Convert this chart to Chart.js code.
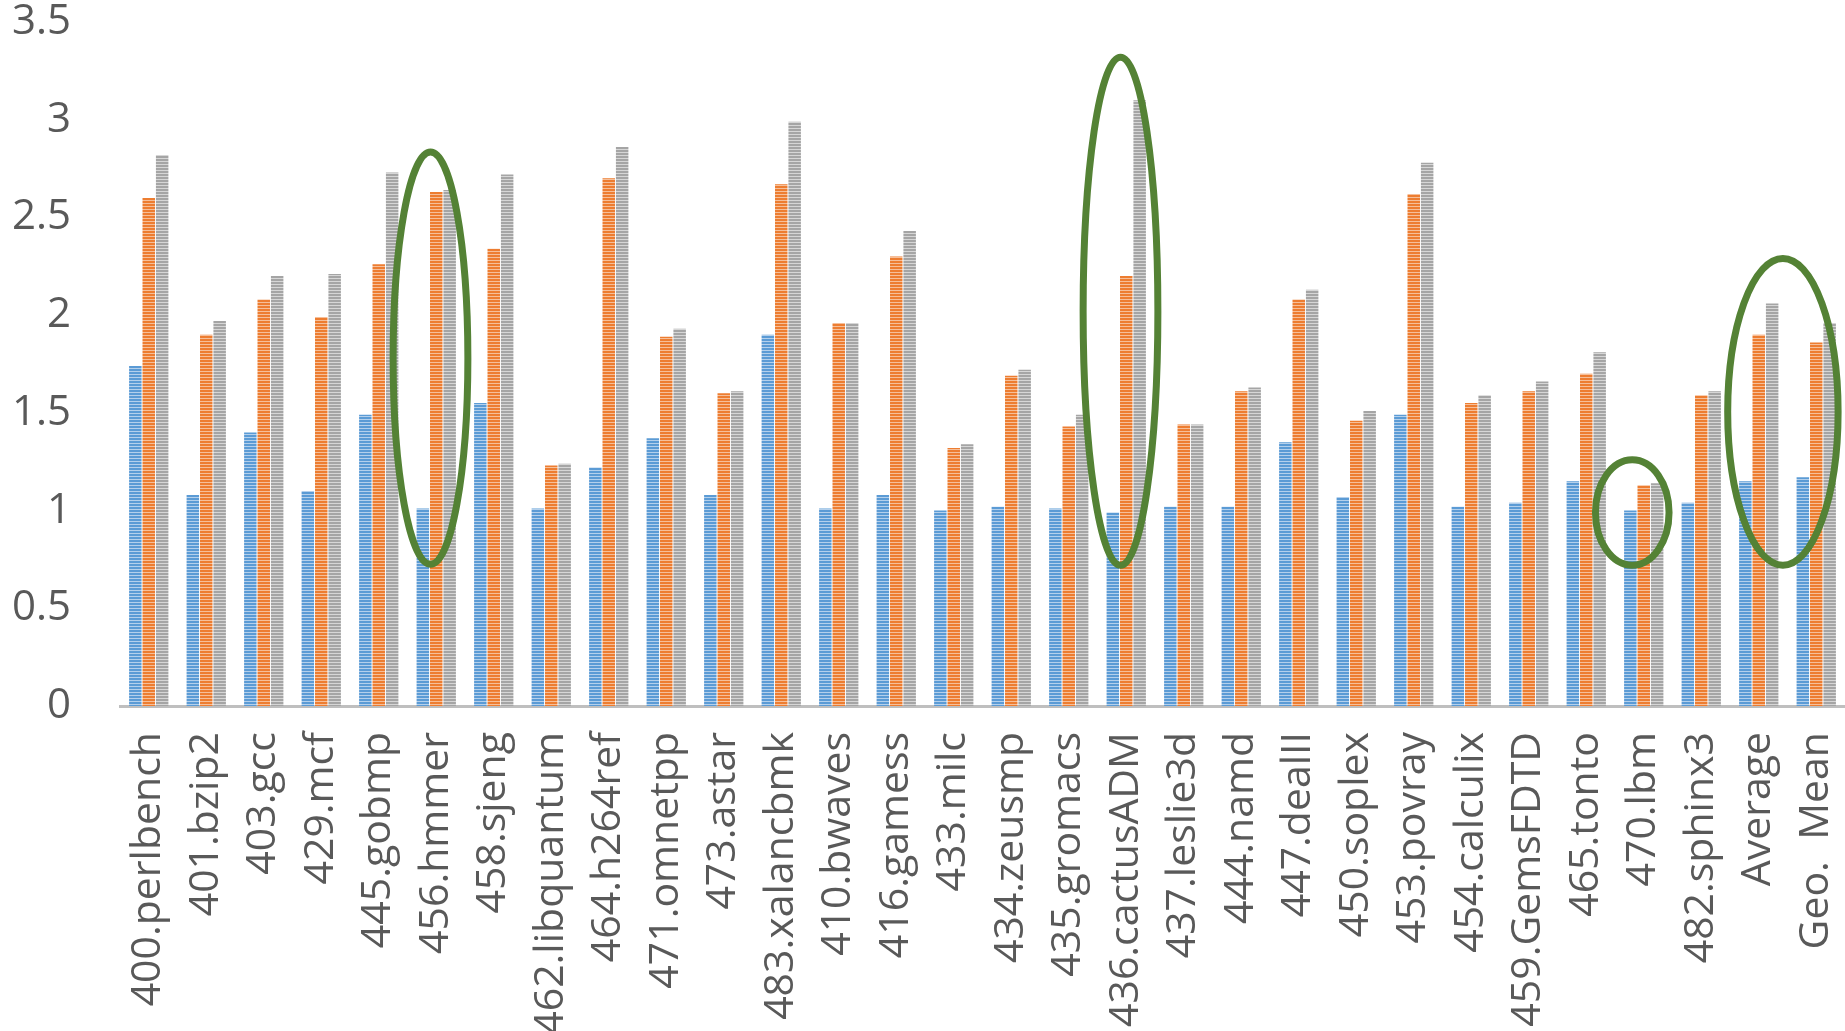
<!DOCTYPE html>
<html>
<head>
<meta charset="utf-8">
<script src="https://cdn.jsdelivr.net/npm/chart.js@4.4.1/dist/chart.umd.min.js"></script>
<style>
  html, body { margin: 0; padding: 0; background: #fff; }
  #wrap { width: 1845px; height: 1031px; }
</style>
</head>
<body>
<div id="wrap"><canvas id="chart" width="1845" height="1031"></canvas></div>
<script>
// ------------------------- DATA -------------------------
const benchmarks = [
  '400.perlbench', '401.bzip2', '403.gcc', '429.mcf', '445.gobmp', '456.hmmer',
  '458.sjeng', '462.libquantum', '464.h264ref', '471.omnetpp', '473.astar',
  '483.xalancbmk', '410.bwaves', '416.gamess', '433.milc', '434.zeusmp',
  '435.gromacs', '436.cactusADM', '437.leslie3d', '444.namd', '447.dealII',
  '450.soplex', '453.povray', '454.calculix', '459.GemsFDTD', '465.tonto',
  '470.lbm', '482.sphinx3', 'Average', 'Geo.  Mean'
];

const seriesBlue = [
  1.74, 1.08, 1.40, 1.10, 1.49, 1.01, 1.55, 1.01, 1.22, 1.37,
  1.08, 1.90, 1.01, 1.08, 1.00, 1.02, 1.01, 0.99, 1.02, 1.02,
  1.35, 1.07, 1.49, 1.02, 1.04, 1.15, 1.00, 1.04, 1.15, 1.17
];
const seriesOrange = [
  2.60, 1.90, 2.08, 1.99, 2.26, 2.63, 2.34, 1.23, 2.70, 1.89,
  1.60, 2.67, 1.96, 2.30, 1.32, 1.69, 1.43, 2.20, 1.44, 1.61,
  2.08, 1.46, 2.62, 1.55, 1.61, 1.70, 1.13, 1.59, 1.90, 1.86
];
const seriesGray = [
  2.82, 1.97, 2.20, 2.21, 2.73, 2.64, 2.72, 1.24, 2.86, 1.93,
  1.61, 2.99, 1.96, 2.43, 1.34, 1.72, 1.49, 3.10, 1.44, 1.63,
  2.13, 1.51, 2.78, 1.59, 1.66, 1.81, 1.14, 1.61, 2.06, 1.96
];

const yTicks = [0, 0.5, 1, 1.5, 2, 2.5, 3, 3.5];

// green ellipses: centre (category index, value), radii (categories, value)
const highlights = [
  { cx: 4.9, cy: 1.78, rx: 0.65, ry: 1.055 },
  { cx: 16.9, cy: 2.02, rx: 0.65, ry: 1.30 },
  { cx: 25.8, cy: 0.99, rx: 0.64, ry: 0.27 },
  { cx: 28.42, cy: 1.505, rx: 0.96, ry: 0.785 }
];

// ------------------------- PATTERNS -------------------------
function stripePattern(color, light) {
  const c = document.createElement('canvas');
  c.width = 4; c.height = 3;
  const g = c.getContext('2d');
  g.fillStyle = light; g.fillRect(0, 0, 4, 3);
  g.fillStyle = color; g.fillRect(0, 0, 4, 2);
  return g.createPattern(c, 'repeat');
}

const ctx = document.getElementById('chart').getContext('2d');

const ellipsePlugin = {
  id: 'ellipses',
  afterDatasetsDraw(chart) {
    const x = chart.scales.x, y = chart.scales.y;
    const catW = x.getPixelForValue(1) - x.getPixelForValue(0);
    const c = chart.ctx;
    c.save();
    c.strokeStyle = '#548235';
    c.lineWidth = 7;
    highlights.forEach(h => {
      const px = x.getPixelForValue(0) + h.cx * catW;
      const py = y.getPixelForValue(h.cy);
      const rx = h.rx * catW;
      const ry = Math.abs(y.getPixelForValue(h.cy + h.ry) - py);
      c.beginPath();
      c.ellipse(px, py, rx, ry, 0, 0, Math.PI * 2);
      c.stroke();
    });
    c.restore();
  }
};

const font = '"Open Sans", sans-serif';

new Chart(ctx, {
  type: 'bar',
  data: {
    labels: benchmarks,
    datasets: [
      { data: seriesBlue, backgroundColor: stripePattern('#5B9BD5', '#B4D0EC') },
      { data: seriesOrange, backgroundColor: stripePattern('#ED7D31', '#F6BF99') },
      { data: seriesGray, backgroundColor: stripePattern('#A5A5A5', '#D6D6D6') }
    ]
  },
  options: {
    responsive: false,
    animation: false,
    devicePixelRatio: 1,
    layout: { padding: { top: 22, left: 0, right: 0, bottom: 0 } },
    plugins: { legend: { display: false }, tooltip: { enabled: false } },
    datasets: { bar: { categoryPercentage: 0.7, barPercentage: 0.93 } },
    scales: {
      x: {
        grid: { display: false, drawTicks: false },
        border: { display: true, color: '#BFBFBF', width: 3 },
        ticks: {
          color: '#595959', font: { family: font, size: 41 }, padding: 26,
          minRotation: 90, maxRotation: 90, autoSkip: false
        },
        afterFit: s => { s.height = 325; s.paddingLeft = 0; s.paddingRight = 0; }
      },
      y: {
        min: 0, max: 3.5,
        afterBuildTicks: s => { s.ticks = yTicks.map(v => ({ value: v })); },
        grid: { display: false, drawTicks: false },
        border: { display: false },
        ticks: { color: '#595959', font: { family: font, size: 42 }, padding: 49, callback: v => String(v) },
        afterFit: s => { s.width = 120; s.paddingTop = 0; s.paddingBottom = 0; }
      }
    }
  },
  plugins: [ellipsePlugin]
});
</script>
</body>
</html>
